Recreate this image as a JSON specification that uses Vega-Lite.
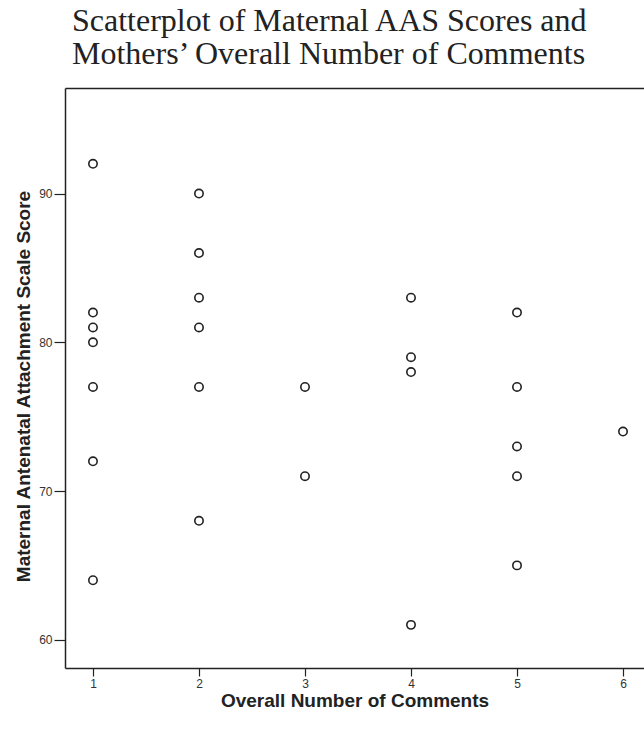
{
  "$schema": "https://vega.github.io/schema/vega-lite/v6.json",
  "width": 579,
  "height": 580,
  "autosize": "none",
  "padding": {"left": 65, "top": 88, "right": 0, "bottom": 64},
  "background": "white",
  "config": {
    "view": {"stroke": null},
    "axis": {
      "grid": false,
      "domainColor": "#222222",
      "domainWidth": 1.5,
      "tickColor": "#222222",
      "tickWidth": 1.2,
      "tickSize": 8,
      "labelFont": "Liberation Sans",
      "labelFontSize": 12,
      "labelColor": "#333333",
      "titleFont": "Liberation Sans",
      "titleFontWeight": "bold",
      "titleColor": "#222222"
    }
  },
  "title": {
    "text": ["Scatterplot of Maternal AAS Scores and", "Mothers’ Overall Number of Comments"],
    "font": "Liberation Serif",
    "fontSize": 32,
    "fontWeight": "normal",
    "color": "#222222",
    "anchor": "start",
    "frame": "group",
    "dx": 7,
    "offset": 17,
    "lineHeight": 33
  },
  "data": {
    "values": [
      {"comments": 1, "score": 92},
      {"comments": 1, "score": 82},
      {"comments": 1, "score": 81},
      {"comments": 1, "score": 80},
      {"comments": 1, "score": 77},
      {"comments": 1, "score": 72},
      {"comments": 1, "score": 64},
      {"comments": 2, "score": 90},
      {"comments": 2, "score": 86},
      {"comments": 2, "score": 83},
      {"comments": 2, "score": 81},
      {"comments": 2, "score": 77},
      {"comments": 2, "score": 68},
      {"comments": 3, "score": 77},
      {"comments": 3, "score": 71},
      {"comments": 4, "score": 83},
      {"comments": 4, "score": 79},
      {"comments": 4, "score": 78},
      {"comments": 4, "score": 61},
      {"comments": 5, "score": 82},
      {"comments": 5, "score": 77},
      {"comments": 5, "score": 73},
      {"comments": 5, "score": 71},
      {"comments": 5, "score": 65},
      {"comments": 6, "score": 74}
    ]
  },
  "layer": [
    {
      "mark": {"type": "point", "shape": "circle", "filled": false, "size": 70, "strokeWidth": 1.6, "color": "#222222", "opacity": 1},
      "encoding": {
        "x": {
          "field": "comments", "type": "quantitative",
          "scale": {"domain": [0.736, 6.198], "nice": false, "zero": false},
          "axis": {"orient": "bottom", "values": [1, 2, 3, 4, 5, 6], "title": "Overall Number of Comments", "titleFontSize": 19, "titlePadding": 2, "labelPadding": 2}
        },
        "y": {
          "field": "score", "type": "quantitative",
          "scale": {"domain": [58.1, 97.1], "nice": false, "zero": false},
          "axis": {"orient": "left", "values": [60, 70, 80, 90], "title": "Maternal Antenatal Attachment Scale Score", "titleFontSize": 19, "titlePadding": 5, "labelPadding": 2, "tickSize": 11, "titleY": 298}
        }
      }
    },
    {
      "mark": {"type": "point", "opacity": 0},
      "encoding": {
        "x": {
          "field": "comments", "type": "quantitative",
          "scale": {"domain": [0.736, 6.198], "nice": false, "zero": false},
          "axis": {"orient": "top", "labels": false, "ticks": false, "title": null}
        },
        "y": {"field": "score", "type": "quantitative"}
      }
    }
  ],
  "resolve": {"axis": {"x": "independent"}}
}
